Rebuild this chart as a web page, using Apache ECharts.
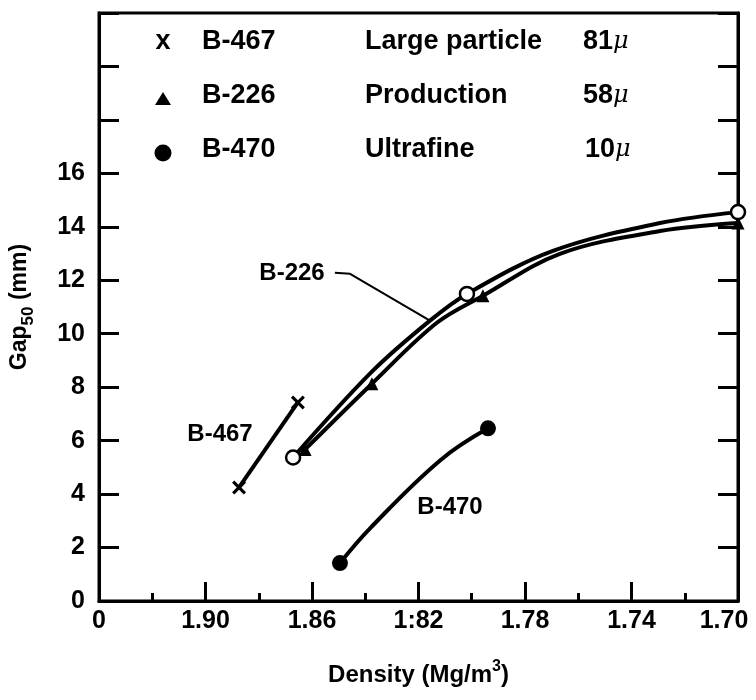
<!DOCTYPE html>
<html>
<head>
<meta charset="utf-8">
<script src="https://cdn.jsdelivr.net/npm/echarts@6/dist/echarts.min.js"></script>
<style>
  html, body { margin: 0; padding: 0; background: #fff; }
  #chart { width: 756px; height: 700px; }
</style>
</head>
<body>
<div id="chart"></div>
<script>
// Density axis ticks (reversed scale, left end shown as the broken-axis "0")
const densityTicks = [1.70, 1.74, 1.78, 1.82, 1.86, 1.90, 1.94];
const densityTickLabels = ['1.70', '1.74', '1.78', '1:82', '1.86', '1.90', '0'];
const gapLabelMax = 16;

// B-467, large particle (81 μ)
const b467Points = [[1.8874, 4.25], [1.8653, 7.43]];

// B-226, production (58 μ): two runs, open circles and triangles
const b226OpenPoints = [[1.8671, 5.37], [1.8018, 11.49], [1.70, 14.55]];
const b226OpenCurve = [
  [1.8671, 5.37], [1.8375, 8.58], [1.8157, 10.49], [1.8018, 11.49],
  [1.7695, 13.10], [1.7293, 14.14], [1.70, 14.55]
];
const b226TriPoints = [[1.8626, 5.67], [1.8375, 8.13], [1.7958, 11.42], [1.70, 14.14]];
const b226TriCurve = [
  [1.8626, 5.67], [1.8375, 8.13], [1.8131, 10.41], [1.7958, 11.42],
  [1.7669, 12.99], [1.7293, 13.84], [1.70, 14.14]
];

// B-470, ultrafine (10 μ)
const b470Points = [[1.8495, 1.42], [1.7939, 6.46]];
const b470Curve = [[1.8495, 1.42], [1.8382, 2.72], [1.8119, 5.26], [1.7939, 6.46]];

// Leader from the "B-226" label to the curve pair
const b226Leader = [[1.8514, 12.28], [1.8457, 12.24], [1.8157, 10.49]];

const FONT = '"Liberation Sans", Arial, sans-serif';
const BLACK = '#000';

function densityLabel(v) {
  for (let i = 0; i < densityTicks.length; i++) {
    if (Math.abs(densityTicks[i] - v) < 1e-6) return densityTickLabels[i];
  }
  return '';
}

const crossPath = 'path://M0,1.6L1.6,0L5,3.4L8.4,0L10,1.6L6.6,5L10,8.4L8.4,10L5,6.6L1.6,10L0,8.4L3.4,5Z';

const axisLineStyle = { color: BLACK, width: 3 };

const chart = echarts.init(document.getElementById('chart'), null, { renderer: 'canvas' });

const option = {
  backgroundColor: '#fff',
  animation: false,
  grid: {
    left: 99, right: 18, top: 13, bottom: 99,
    outerBoundsMode: 'none',
    containLabel: false,
    show: true, borderColor: BLACK, borderWidth: 3, backgroundColor: 'transparent'
  },
  xAxis: {
    type: 'value',
    min: 1.70, max: 1.94, interval: 0.04,
    inverse: true,
    position: 'bottom',
    axisLine: { show: true, lineStyle: axisLineStyle },
    axisTick: { show: true, inside: true, length: 19, lineStyle: { color: BLACK, width: 3 } },
    minorTick: { show: true, splitNumber: 2, length: 8, lineStyle: { color: BLACK, width: 3 } },
    splitLine: { show: false },
    minorSplitLine: { show: false },
    axisLabel: {
      showMinLabel: true, showMaxLabel: true,
      margin: 8,
      color: BLACK, fontFamily: FONT, fontWeight: 'bold', fontSize: 25,
      formatter: function (v) {
        const t = densityLabel(v);
        return Math.abs(v - 1.70) < 1e-6 ? '{last|' + t + '}' : t;
      },
      rich: {
        last: { color: BLACK, fontFamily: FONT, fontWeight: 'bold', fontSize: 25, padding: [0, 28, 0, 0] }
      }
    },
    name: 'Density (Mg/m{sup|3})',
    nameLocation: 'middle',
    nameGap: 58,
    nameTextStyle: {
      color: BLACK, fontFamily: FONT, fontWeight: 'bold', fontSize: 24, lineHeight: 32,
      rich: {
        sup: { color: BLACK, fontFamily: FONT, fontWeight: 'bold', fontSize: 16, lineHeight: 16, verticalAlign: 'top' }
      }
    }
  },
  yAxis: [
    {
      type: 'value',
      min: 0, max: 22, interval: 2,
      position: 'left',
      axisLine: { show: true, lineStyle: axisLineStyle },
      axisTick: { show: true, inside: true, length: 20, lineStyle: { color: BLACK, width: 3 } },
      splitLine: { show: false },
      axisLabel: {
        margin: 14,
        color: BLACK, fontFamily: FONT, fontWeight: 'bold', fontSize: 25,
        formatter: function (v) { return v <= gapLabelMax ? String(v) : ''; }
      },
      name: 'Gap{sub|50} (mm)',
      nameLocation: 'middle',
      nameRotate: 90,
      nameGap: 62,
      nameTextStyle: {
        color: BLACK, fontFamily: FONT, fontWeight: 'bold', fontSize: 23, lineHeight: 34,
        rich: {
          sub: { color: BLACK, fontFamily: FONT, fontWeight: 'bold', fontSize: 17, lineHeight: 17, verticalAlign: 'bottom' }
        }
      }
    },
    {
      type: 'value',
      min: 0, max: 22, interval: 2,
      position: 'right',
      axisLine: { show: true, lineStyle: axisLineStyle },
      axisTick: { show: true, inside: true, length: 20, lineStyle: { color: BLACK, width: 3 } },
      splitLine: { show: false },
      axisLabel: { show: false }
    }
  ],
  series: [
    {
      name: 'B-467', type: 'line', data: b467Points, showSymbol: false, smooth: false,
      lineStyle: { color: BLACK, width: 4 }, z: 2
    },
    {
      name: 'B-226 open', type: 'line', data: b226OpenCurve, showSymbol: false, smooth: 0.35,
      lineStyle: { color: BLACK, width: 4 }, z: 2
    },
    {
      name: 'B-226', type: 'line', data: b226TriCurve, showSymbol: false, smooth: 0.35,
      lineStyle: { color: BLACK, width: 4 }, z: 2
    },
    {
      name: 'B-470', type: 'line', data: b470Curve, showSymbol: false, smooth: 0.4,
      lineStyle: { color: BLACK, width: 4 }, z: 2
    },
    {
      name: 'B-226 leader', type: 'line', data: b226Leader, showSymbol: false, smooth: false,
      lineStyle: { color: BLACK, width: 2 }, z: 2
    },
    {
      name: 'B-467 points', type: 'scatter', data: b467Points, symbol: crossPath, symbolSize: 14,
      itemStyle: { color: BLACK, opacity: 1 }, z: 4
    },
    {
      name: 'B-226 points', type: 'scatter', data: b226TriPoints, symbol: 'triangle', symbolSize: 13,
      itemStyle: { color: BLACK, opacity: 1 }, z: 4
    },
    {
      name: 'B-226 open points', type: 'scatter', data: b226OpenPoints, symbol: 'circle', symbolSize: 14,
      itemStyle: { color: '#fff', borderColor: BLACK, borderWidth: 2.5, opacity: 1 }, z: 5
    },
    {
      name: 'B-470 points', type: 'scatter', data: b470Points, symbol: 'circle', symbolSize: 16,
      itemStyle: { color: BLACK, opacity: 1 }, z: 4
    }
  ],
  graphic: [
    // key: symbol, code, description, particle size
    { type: 'text', x: 163, y: 42, style: { text: 'x', font: 'bold 27px ' + FONT, fill: BLACK, align: 'center', verticalAlign: 'middle', textAlign: 'center', textVerticalAlign: 'middle' } },
    { type: 'polygon', shape: { points: [[155, 105], [171, 105], [163, 92]] }, style: { fill: BLACK } },
    { type: 'circle', shape: { cx: 163, cy: 153, r: 8.5 }, style: { fill: BLACK } },

    { type: 'text', x: 202, y: 42, style: { text: 'B-467', font: 'bold 27px ' + FONT, fill: BLACK, verticalAlign: 'middle', textVerticalAlign: 'middle' } },
    { type: 'text', x: 202, y: 96, style: { text: 'B-226', font: 'bold 27px ' + FONT, fill: BLACK, verticalAlign: 'middle', textVerticalAlign: 'middle' } },
    { type: 'text', x: 202, y: 150, style: { text: 'B-470', font: 'bold 27px ' + FONT, fill: BLACK, verticalAlign: 'middle', textVerticalAlign: 'middle' } },

    { type: 'text', x: 365, y: 42, style: { text: 'Large particle', font: 'bold 27px ' + FONT, fill: BLACK, verticalAlign: 'middle', textVerticalAlign: 'middle' } },
    { type: 'text', x: 365, y: 96, style: { text: 'Production', font: 'bold 27px ' + FONT, fill: BLACK, verticalAlign: 'middle', textVerticalAlign: 'middle' } },
    { type: 'text', x: 365, y: 150, style: { text: 'Ultrafine', font: 'bold 27px ' + FONT, fill: BLACK, verticalAlign: 'middle', textVerticalAlign: 'middle' } },

    { type: 'text', x: 583, y: 42, style: { text: '81{mu|μ}', font: 'bold 27px ' + FONT, fill: BLACK, verticalAlign: 'middle', textVerticalAlign: 'middle', rich: { mu: { font: 'italic 24px "DejaVu Serif"', fill: BLACK } } } },
    { type: 'text', x: 583, y: 96, style: { text: '58{mu|μ}', font: 'bold 27px ' + FONT, fill: BLACK, verticalAlign: 'middle', textVerticalAlign: 'middle', rich: { mu: { font: 'italic 24px "DejaVu Serif"', fill: BLACK } } } },
    { type: 'text', x: 585, y: 150, style: { text: '10{mu|μ}', font: 'bold 27px ' + FONT, fill: BLACK, verticalAlign: 'middle', textVerticalAlign: 'middle', rich: { mu: { font: 'italic 24px "DejaVu Serif"', fill: BLACK } } } },

    // curve labels
    { type: 'text', x: 292, y: 273, style: { text: 'B-226', font: 'bold 24px ' + FONT, fill: BLACK, align: 'center', verticalAlign: 'middle', textAlign: 'center', textVerticalAlign: 'middle' } },
    { type: 'text', x: 220, y: 434, style: { text: 'B-467', font: 'bold 24px ' + FONT, fill: BLACK, align: 'center', verticalAlign: 'middle', textAlign: 'center', textVerticalAlign: 'middle' } },
    { type: 'text', x: 450, y: 507, style: { text: 'B-470', font: 'bold 24px ' + FONT, fill: BLACK, align: 'center', verticalAlign: 'middle', textAlign: 'center', textVerticalAlign: 'middle' } }
  ]
};

chart.setOption(option);
</script>
</body>
</html>
